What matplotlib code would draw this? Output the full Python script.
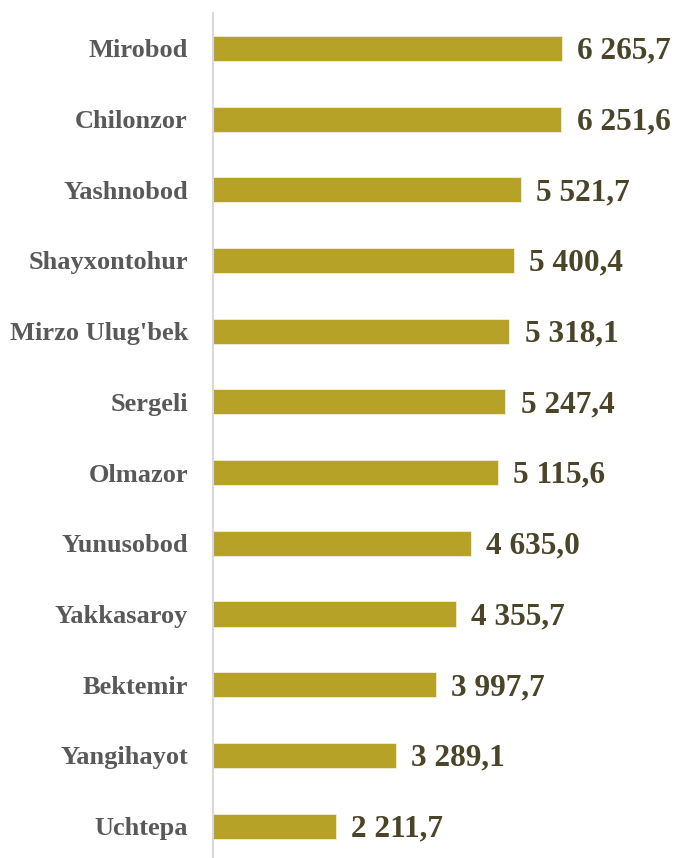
import matplotlib.pyplot as plt

districts = ["Mirobod", "Chilonzor", "Yashnobod", "Shayxontohur", "Mirzo Ulug'bek",
             "Sergeli", "Olmazor", "Yunusobod", "Yakkasaroy", "Bektemir",
             "Yangihayot", "Uchtepa"]
values = [6265.7, 6251.6, 5521.7, 5400.4, 5318.1, 5247.4, 5115.6, 4635.0,
          4355.7, 3997.7, 3289.1, 2211.7]
value_labels = ["6 265,7", "6 251,6", "5 521,7", "5 400,4", "5 318,1", "5 247,4",
                "5 115,6", "4 635,0", "4 355,7", "3 997,7", "3 289,1", "2 211,7"]

plt.rcParams['font.family'] = ['Liberation Serif', 'DejaVu Serif']

fig = plt.figure(figsize=(6.76, 8.58), dpi=100)
ax = fig.add_axes([213 / 676, 0, 1 - 213 / 676, 845 / 858])

y = list(range(len(districts)))
ax.barh(y, values, height=0.355, color='#B5A227', edgecolor='#F2EFD8', linewidth=0.6)

# подписи значений справа от столбцов
for i, (v, lab) in enumerate(zip(values, value_labels)):
    ax.annotate(lab, (v, i), xytext=(11, -2), textcoords='offset points',
                ha='left', va='center', fontsize=22.5, fontweight='bold', color='#4A4428')

ax.set_yticks(y)
ax.set_yticklabels(districts, fontsize=19, fontweight='bold', color='#595959')
ax.tick_params(axis='y', length=0, pad=18)
ax.set_xticks([])
ax.set_xlim(0, 8312)
ax.set_ylim(11.45, -0.5)

for s in ['top', 'right', 'bottom']:
    ax.spines[s].set_visible(False)
ax.spines['left'].set_color('#D9D9D9')
ax.spines['left'].set_linewidth(1.5)

fig.savefig('out.png', dpi=100)
